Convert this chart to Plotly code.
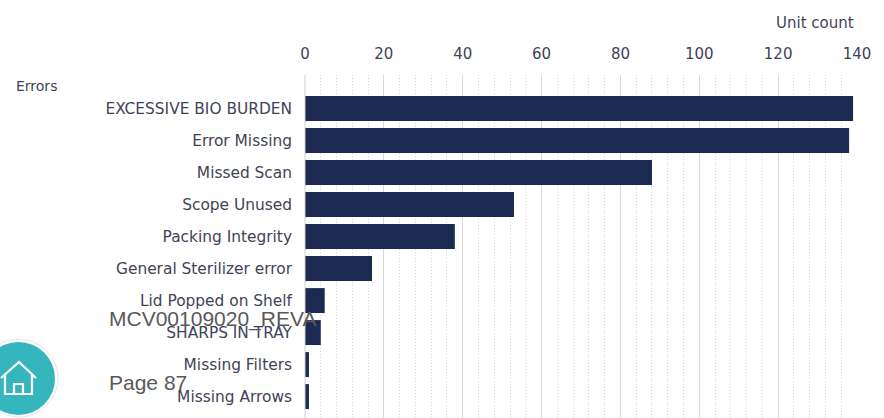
import plotly.graph_objects as go

W, H = 884, 418
ML, MR, MT, MB = 305, 27, 75, 0

categories = ["EXCESSIVE BIO BURDEN", "Error Missing", "Missed Scan", "Scope Unused",
              "Packing Integrity", "General Sterilizer error", "Lid Popped on Shelf",
              "SHARPS IN TRAY", "Missing Filters", "Missing Arrows"]
unit_counts = [139, 138, 88, 53, 38, 17, 5, 4, 1, 1]
x_ticks = [0, 20, 40, 60, 80, 100, 120, 140]

TEXT = "#3f4358"
BAR = "#1b2a50"


def px(x):
    return (x - ML) / (W - ML - MR)


def py(y):
    return 1 - (y - MT) / (H - MT - MB)


def p(x, y):
    return f"{px(x):.5f},{py(y):.5f}"


fig = go.Figure(go.Bar(x=unit_counts, y=categories, orientation="h",
                       marker=dict(color=BAR, line=dict(width=0)), width=0.78))

fig.update_xaxes(side="top", range=[0, 140], tickvals=x_ticks, ticks="",
                 showgrid=True, gridcolor="#d9d9d9", gridwidth=1, zeroline=False,
                 showline=False, tickfont=dict(family="DejaVu Sans", size=15, color=TEXT),
                 ticklabelstandoff=12,
                 minor=dict(dtick=4, tick0=0, showgrid=True, gridcolor="#d6d6d6",
                            griddash="1px,2px", gridwidth=1, ticks=""))
fig.update_yaxes(type="category", categoryorder="array", categoryarray=categories,
                 range=[9.67, -1.05], showgrid=False, ticks="", showline=False, zeroline=False,
                 ticklabelstandoff=12,
                 tickfont=dict(family="DejaVu Sans", size=15.4, color=TEXT))

shapes = [
    dict(type="line", xref="paper", yref="paper", x0=0, x1=0, y0=0, y1=1,
         line=dict(color="#cfcfcf", width=1), layer="above"),
    dict(type="circle", xref="paper", yref="paper", x0=px(-20), x1=px(58), y0=py(417), y1=py(339),
         fillcolor="#ffffff", line=dict(color="#e6e6e6", width=1), layer="above"),
    dict(type="circle", xref="paper", yref="paper", x0=px(-18), x1=px(55), y0=py(415), y1=py(342),
         fillcolor="#35b6bd", line=dict(width=0), layer="above"),
    dict(type="path", xref="paper", yref="paper", layer="above",
         path=f"M{p(1,378)} L{p(19,362)} L{p(36,378)} M{p(5,375)} L{p(5,394)} L{p(32,394)} L{p(32,375)} "
              f"M{p(14,394)} L{p(14,384)} L{p(23,384)} L{p(23,394)}",
         line=dict(color="#ffffff", width=2.2)),
]

OVER = "#595959"
annotations = [
    dict(text="Errors", x=px(15), y=py(86), xanchor="left", yanchor="middle",
         font=dict(family="DejaVu Sans", size=14, color=TEXT)),
    dict(text="Unit count", x=px(855), y=py(23), xanchor="right", yanchor="middle",
         font=dict(family="DejaVu Sans", size=15, color=TEXT)),
    dict(text="MCV00109020_REVA", x=px(108), y=py(319), xanchor="left", yanchor="middle",
         font=dict(family="Liberation Sans", size=21, color=OVER)),
    dict(text="Page 87", x=px(108), y=py(382), xanchor="left", yanchor="middle",
         font=dict(family="Liberation Sans", size=21, color=OVER)),
]
for a in annotations:
    a.update(xref="paper", yref="paper", showarrow=False, xshift=0, yshift=0,
             borderpad=0, align="left")

fig.update_layout(width=W, height=H, margin=dict(l=ML, r=MR, t=MT, b=MB, pad=0, autoexpand=False),
                  paper_bgcolor="#ffffff", plot_bgcolor="#ffffff", showlegend=False,
                  shapes=shapes, annotations=annotations, bargap=0.2)

fig.write_html("out.html", config={"displayModeBar": False},
               post_script="document.documentElement.style.margin='0';document.body.style.margin='0';document.body.style.overflow='hidden';")
